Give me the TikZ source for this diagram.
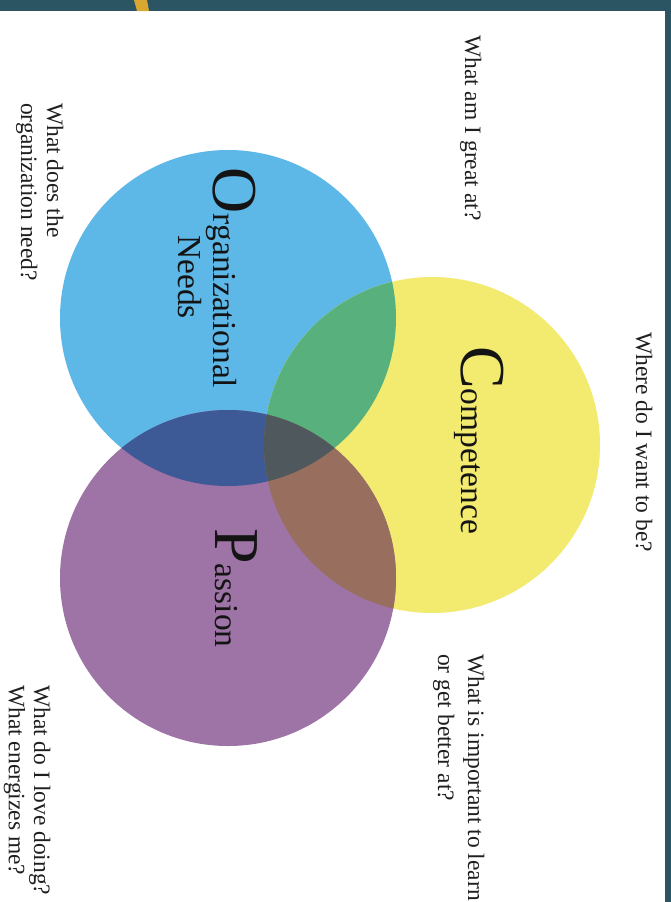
\documentclass[tikz,border=0pt]{standalone}
\usepackage{fontspec}
\setmainfont{Liberation Serif}
\definecolor{frameteal}{RGB}{44,85,100}
\definecolor{accentgold}{RGB}{216,168,48}
\definecolor{cblue}{RGB}{93,184,232}
\definecolor{cyellow}{RGB}{242,235,111}
\definecolor{cpurple}{RGB}{158,115,165}
\definecolor{cgreen}{RGB}{88,176,124}
\definecolor{cnavy}{RGB}{62,90,150}
\definecolor{cbrown}{RGB}{152,111,95}
\definecolor{ccore}{RGB}{79,88,92}
\begin{document}
\begin{tikzpicture}[x=1pt,y=-1pt,
  question/.style={rotate=-90, anchor=base west, inner sep=0pt,
    font=\fontsize{23.5}{27}\selectfont, text=black!88},
  circlabel/.style={rotate=-90, anchor=base, inner sep=0pt,
    font=\fontsize{33.5}{36}\selectfont, text=black!92},
  set/.style={circle, inner sep=0pt, minimum size=336pt, fill=#1},
]
\newcommand{\dropcap}[1]{{\fontsize{64}{64}\selectfont #1}}
\useasboundingbox (0,0) rectangle (671,902);
\fill[white] (0,0) rectangle (671,902);

% frame bands and gold accent stroke
\fill[frameteal] (0,0) rectangle (671,11);
\fill[frameteal] (665,0) rectangle (671,902);
\fill[accentgold] (134,0) -- (147,0) -- (149,11) -- (137,11) -- cycle;

% the three sets
\coordinate (co) at (228,318);
\coordinate (cc) at (432,445);
\coordinate (cp) at (228,578);
\node[set=cblue] (org) at (co) {};
\node[set=cyellow] (comp) at (cc) {};
\node[set=cpurple] (pass) at (cp) {};

% pairwise overlaps
\begin{scope}
  \clip (co) circle[radius=168pt];
  \fill[cgreen] (cc) circle[radius=168pt];
  \fill[cnavy] (cp) circle[radius=168pt];
\end{scope}
\begin{scope}
  \clip (cc) circle[radius=168pt];
  \fill[cbrown] (cp) circle[radius=168pt];
\end{scope}
% common region
\begin{scope}
  \clip (co) circle[radius=168pt];
  \clip (cc) circle[radius=168pt];
  \fill[ccore] (cp) circle[radius=168pt];
\end{scope}

% set labels
\node[circlabel] (orgA) at (213,278) {\dropcap{O}rganizational};
\node[circlabel] (orgB) at (178,277) {Needs};
\node[circlabel] (compL) at (461,440) {\dropcap{C}ompetence};
\node[circlabel] (passL) at (215,588) {\dropcap{P}assion};

% guiding questions
\node[question] (qwhere) at (636,332) {Where do I want to be?};
\node[question] (qgreat) at (465,35) {What am I great at?};
\node[question] (qorgA) at (47,103) {What does the};
\node[question] (qorgB) at (21,103) {organization need?};
\node[question] (qlearnA) at (468,654) {What is important to learn};
\node[question] (qlearnB) at (438,654) {or get better at?};
\node[question] (qloveA) at (34,685) {What do I love doing?};
\node[question] (qloveB) at (9,685) {What energizes me?};
\end{tikzpicture}
\end{document}
